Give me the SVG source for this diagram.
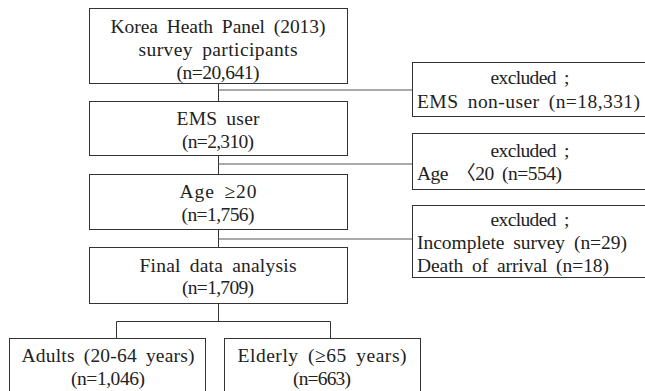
<svg xmlns="http://www.w3.org/2000/svg" width="645" height="391" viewBox="0 0 645 391">
<style>
.box{fill:#fff;stroke:#333;stroke-width:1}
.ln{stroke:#333;stroke-width:1;fill:none}
.hl{stroke:#555;stroke-width:1;fill:none}
text{font-family:"Liberation Serif","Noto Sans CJK KR",serif;font-size:19.5px;fill:#222;word-spacing:4px}
.c{text-anchor:middle}
</style>
<rect width="645" height="391" fill="#fff"/>
<g id="connectors">
<path class="ln" d="M218.5 83.5V101.5M218.5 155.5V174.5M218.5 229.5V247.5M218.5 303.5V321.5"/>
<path class="hl" d="M218.5 90H412.5M218.5 164H412.5M218.5 239H412.5"/>
<path class="ln" d="M116.5 321.5H330.5M116.5 321.5V338.5M330.5 321.5V338.5"/>
</g>
<g id="n1">
<rect class="box" x="89.5" y="8.5" width="258" height="75"/>
<text class="c" x="218" y="32.5" textLength="215" lengthAdjust="spacing">Korea Heath Panel (2013)</text>
<text class="c" x="218" y="56" textLength="159" lengthAdjust="spacing">survey participants</text>
<text class="c" x="218" y="79" textLength="83" lengthAdjust="spacing">(n=20,641)</text>
</g>
<g id="n2">
<rect class="box" x="89.5" y="101.5" width="258" height="54"/>
<text class="c" x="218" y="125" textLength="83" lengthAdjust="spacing">EMS user</text>
<text class="c" x="218" y="148" textLength="72" lengthAdjust="spacing">(n=2,310)</text>
</g>
<g id="n3">
<rect class="box" x="89.5" y="174.5" width="258" height="55"/>
<text class="c" x="218" y="198" textLength="77" lengthAdjust="spacing">Age ≥20</text>
<text class="c" x="218" y="221" textLength="73" lengthAdjust="spacing">(n=1,756)</text>
</g>
<g id="n4">
<rect class="box" x="89.5" y="247.5" width="258" height="56"/>
<text class="c" x="218" y="272" textLength="157" lengthAdjust="spacing">Final data analysis</text>
<text class="c" x="218" y="294" textLength="72" lengthAdjust="spacing">(n=1,709)</text>
</g>
<g id="x1">
<rect class="box" x="412.5" y="62.5" width="236" height="54"/>
<text class="c" x="530" y="84" textLength="79" lengthAdjust="spacing">excluded ;</text>
<text x="417" y="108" textLength="223" lengthAdjust="spacing">EMS non-user (n=18,331)</text>
</g>
<g id="x2">
<rect class="box" x="412.5" y="133.5" width="236" height="56"/>
<text class="c" x="530" y="157" textLength="79" lengthAdjust="spacing">excluded ;</text>
<text x="417" y="180" textLength="145" lengthAdjust="spacing">Age 〈20 (n=554)</text>
</g>
<g id="x3">
<rect class="box" x="412.5" y="205.5" width="236" height="72"/>
<text class="c" x="530" y="226" textLength="79" lengthAdjust="spacing">excluded ;</text>
<text x="417" y="249" textLength="210" lengthAdjust="spacing">Incomplete survey (n=29)</text>
<text x="417" y="272" textLength="192" lengthAdjust="spacing">Death of arrival (n=18)</text>
</g>
<g id="n5">
<rect class="box" x="9.5" y="338.5" width="196" height="60"/>
<text class="c" x="108" y="362" textLength="173" lengthAdjust="spacing">Adults (20-64 years)</text>
<text class="c" x="108" y="385" textLength="74" lengthAdjust="spacing">(n=1,046)</text>
</g>
<g id="n6">
<rect class="box" x="224.5" y="338.5" width="196" height="60"/>
<text class="c" x="322" y="362" textLength="169" lengthAdjust="spacing">Elderly (≥65 years)</text>
<text class="c" x="322" y="385" textLength="58" lengthAdjust="spacing">(n=663)</text>
</g>
</svg>
